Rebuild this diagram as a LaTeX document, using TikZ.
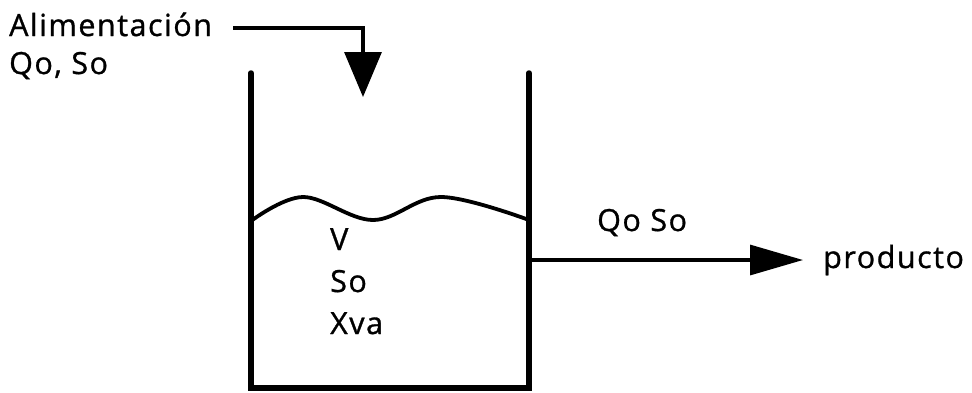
\documentclass[tikz,border=0pt]{standalone}
\usepackage{fontspec}
\setmainfont[LetterSpace=5,FakeBold=1]{Open Sans}
\usetikzlibrary{arrows.meta,positioning}
\tikzset{
  lbl/.style={font=\fontsize{30.5}{36}\selectfont,inner sep=0pt,anchor=base west},
  wall/.style={line width=5.5pt,line join=miter,line cap=round},
  flow/.style={line width=3.2pt},
  feedtip/.style={-{Triangle[length=45pt,width=37pt]}},
  outtip/.style={-{Triangle[length=53pt,width=30pt]}},
}

\begin{document}
\begin{tikzpicture}[x=1pt,y=-1pt]
    \useasboundingbox (0,0) rectangle (972,392);
    % tank
    \coordinate (tl) at (251,73);
    \coordinate (bl) at (251,388);
    \coordinate (br) at (529,388);
    \coordinate (tr) at (529,73);
    \draw[wall] (tl) -- (bl) -- (br) -- (tr);
    % liquid surface
    \draw[line width=3.8pt] plot[smooth,tension=0.6] coordinates
      {(251,221) (303,197) (373,220) (441,197) (529,220)};
    % labels
    \node[lbl] (alim) at (9,36) {Alimentación};
    \node[lbl] (feed) at (9,74) {Qo, So};
    \node[lbl] (vol) at (330,250) {V};
    \node[lbl] (sub) at (330,292) {So};
    \node[lbl] (bio) at (330,334) {Xva};
    \node[lbl] (outq) at (597,231) {Qo So};
    \node[lbl] (prod) at (823,268) {producto};
    % streams
    \coordinate (feedin) at (233,28);
    \coordinate (feedout) at (363,97);
    \coordinate (outin) at (529,260);
    \coordinate (outend) at (803,260);
    \draw[flow,feedtip] (feedin) -| (feedout);
    \draw[flow,outtip] (outin) -- (outend);
\end{tikzpicture}
\end{document}
